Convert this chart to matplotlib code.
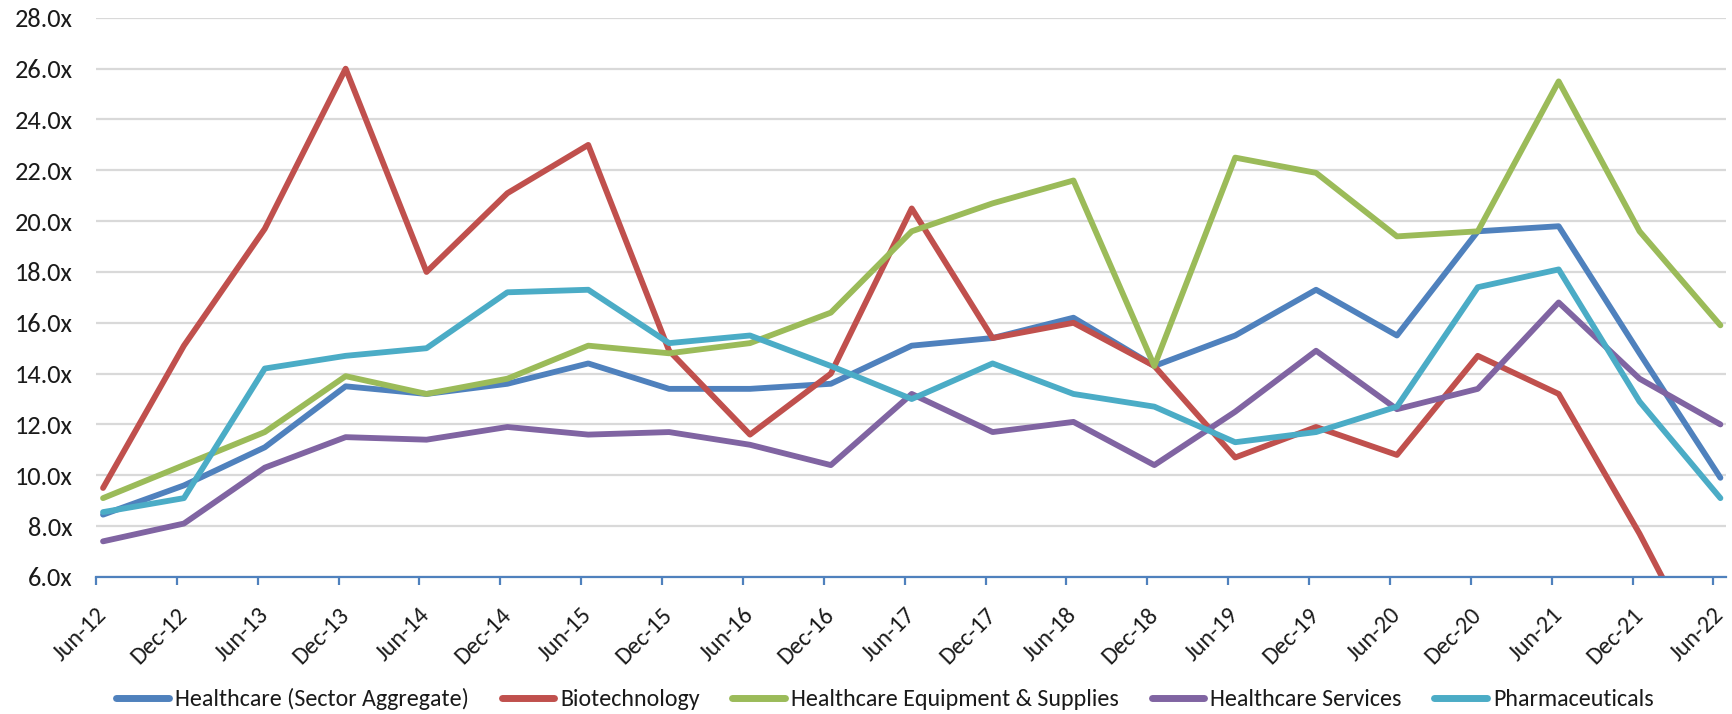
import matplotlib
matplotlib.use("Agg")
import matplotlib.pyplot as plt
from matplotlib.ticker import FixedLocator, FuncFormatter

plt.rcParams['font.family'] = ['Carlito', 'Lato', 'DejaVu Sans']

dates = ['Jun-12', 'Dec-12', 'Jun-13', 'Dec-13', 'Jun-14', 'Dec-14', 'Jun-15', 'Dec-15',
         'Jun-16', 'Dec-16', 'Jun-17', 'Dec-17', 'Jun-18', 'Dec-18', 'Jun-19', 'Dec-19',
         'Jun-20', 'Dec-20', 'Jun-21', 'Dec-21', 'Jun-22']

healthcare = [8.45, 9.6, 11.1, 13.5, 13.2, 13.6, 14.4, 13.4, 13.4, 13.6, 15.1,
              15.4, 16.2, 14.3, 15.5, 17.3, 15.5, 19.6, 19.8, 14.8, 9.9]
biotech = [9.5, 15.1, 19.7, 26.0, 18.0, 21.1, 23.0, 14.9, 11.6, 14.0, 20.5,
           15.4, 16.0, 14.3, 10.7, 11.9, 10.8, 14.7, 13.2, 7.7, 1.6]
equipment = [9.1, 10.4, 11.7, 13.9, 13.2, 13.8, 15.1, 14.8, 15.2, 16.4, 19.6,
             20.7, 21.6, 14.3, 22.5, 21.9, 19.4, 19.6, 25.5, 19.6, 15.9]
services = [7.4, 8.1, 10.3, 11.5, 11.4, 11.9, 11.6, 11.7, 11.2, 10.4, 13.2,
            11.7, 12.1, 10.4, 12.5, 14.9, 12.6, 13.4, 16.8, 13.8, 12.0]
pharma = [8.55, 9.1, 14.2, 14.7, 15.0, 17.2, 17.3, 15.2, 15.5, 14.3, 13.0,
          14.4, 13.2, 12.7, 11.3, 11.7, 12.7, 17.4, 18.1, 12.9, 9.1]

series_names = ['Healthcare (Sector Aggregate)', 'Biotechnology',
                'Healthcare Equipment & Supplies', 'Healthcare Services', 'Pharmaceuticals']
series_values = [healthcare, biotech, equipment, services, pharma]
colors = ['#4F81BD', '#C0504D', '#9BBB59', '#8064A2', '#4BACC6']

yticks = [6, 8, 10, 12, 14, 16, 18, 20, 22, 24, 26, 28]

fig = plt.figure(figsize=(17.33, 7.14), dpi=100)
ax = fig.add_axes([0.0554, 0.192, 0.9406, 0.783])

x = list(range(len(dates)))
for name, vals, c in zip(series_names, series_values, colors):
    ax.plot(x, vals, color=c, lw=4.2, label=name,
            solid_capstyle='round', solid_joinstyle='round')

ax.set_ylim(6, 28)
ax.set_xlim(-0.087, 20.07)
ax.yaxis.set_major_locator(FixedLocator(yticks))
ax.yaxis.set_major_formatter(FuncFormatter(lambda v, p: f"{v:.1f}x"))
ax.grid(axis='y', color='#D9D9D9', lw=1.6)
ax.set_axisbelow(True)

for s in ['top', 'right', 'left']:
    ax.spines[s].set_visible(False)
ax.spines['bottom'].set_color('#4F81BD')
ax.spines['bottom'].set_linewidth(1.6)
ax.spines['bottom'].set_zorder(5)

ax.tick_params(axis='y', length=0, pad=17, labelsize=19, labelcolor='#1a1a1a')

# labels at the data positions, tick marks slightly to the left
ax.set_xticks(x)
ax.set_xticklabels(dates, rotation=45, ha='right', va='center',
                   rotation_mode='anchor', fontsize=17.5, color='#1a1a1a')
ax.tick_params(axis='x', which='major', length=0, pad=25)
ax.set_xticks([i - 0.087 for i in x], minor=True)
ax.tick_params(axis='x', which='minor', length=6, width=1.6, color='#4F81BD',
               direction='out')

leg = fig.legend(loc='center', bbox_to_anchor=(0.5107, 0.021), ncol=5,
                 frameon=False, fontsize=17.3, handlelength=2.2,
                 handletextpad=0.25, columnspacing=1.35, borderaxespad=0)
for line in leg.get_lines():
    line.set_linewidth(5)
for t in leg.get_texts():
    t.set_color('#1a1a1a')

fig.savefig('out.png', dpi=100)
